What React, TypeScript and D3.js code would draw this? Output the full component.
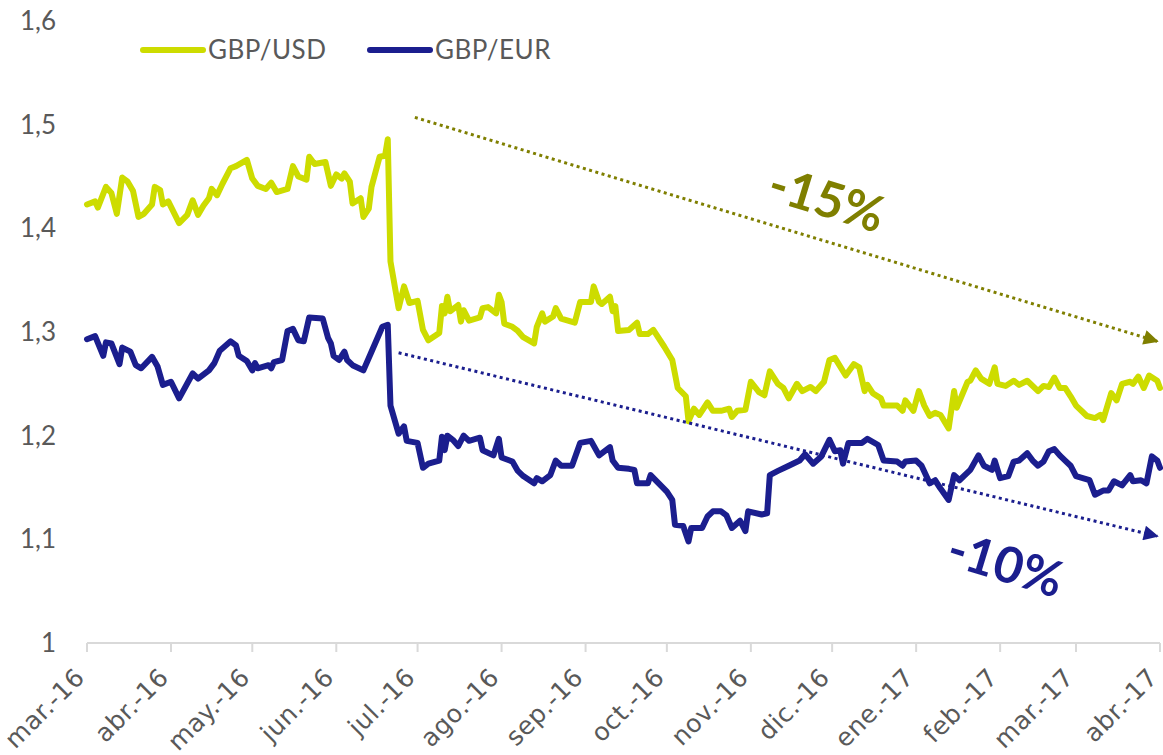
import React from "react";
import * as d3 from "d3";

// Days are counted from 1 March 2016
const usdDays = [0,3,4,7,9,11,13,15,17,19,21,24,25,27,28,30,34,37,39,41,43,45,46,48,50,53,55,59,61,63,66,68,70,74,76,78,81,82,84,88,90,92,94,95,97,98,101,102,104,105,108,110,111,112,115,117,119,122,124,126,130,131,132,133,134,137,138,139,141,145,146,148,151,152,153,154,157,159,161,165,166,168,169,172,173,175,180,182,186,187,189,190,193,194,195,196,200,203,204,207,209,213,216,218,221,222,224,226,229,231,234,237,238,240,243,245,248,250,252,255,257,259,262,264,267,269,272,274,276,280,283,285,287,288,290,293,294,299,301,302,305,307,309,311,313,315,318,320,321,325,326,328,330,333,335,336,339,342,344,347,351,353,355,357,359,361,363,365,367,369,372,374,375,378,380,382,385,386,388,390,392,395,396];
const usdValues = [1.423,1.426,1.420,1.440,1.434,1.414,1.449,1.445,1.436,1.411,1.414,1.423,1.440,1.437,1.423,1.426,1.405,1.413,1.427,1.413,1.422,1.429,1.438,1.432,1.443,1.458,1.460,1.466,1.448,1.441,1.438,1.444,1.435,1.438,1.460,1.450,1.447,1.469,1.462,1.464,1.441,1.452,1.448,1.453,1.445,1.424,1.429,1.411,1.419,1.440,1.469,1.470,1.486,1.368,1.323,1.344,1.328,1.330,1.302,1.292,1.299,1.325,1.318,1.334,1.320,1.326,1.310,1.321,1.311,1.314,1.323,1.324,1.318,1.336,1.329,1.308,1.305,1.301,1.295,1.289,1.305,1.318,1.310,1.315,1.323,1.313,1.309,1.329,1.329,1.344,1.329,1.327,1.334,1.320,1.325,1.301,1.302,1.309,1.298,1.298,1.302,1.286,1.273,1.246,1.238,1.214,1.226,1.220,1.232,1.224,1.224,1.226,1.218,1.224,1.225,1.252,1.242,1.239,1.262,1.250,1.246,1.236,1.250,1.243,1.247,1.243,1.252,1.273,1.275,1.258,1.269,1.266,1.243,1.249,1.241,1.236,1.229,1.229,1.224,1.234,1.224,1.243,1.229,1.219,1.222,1.220,1.207,1.243,1.227,1.252,1.253,1.263,1.255,1.250,1.266,1.250,1.248,1.253,1.249,1.253,1.243,1.248,1.247,1.256,1.246,1.246,1.238,1.229,1.224,1.219,1.217,1.220,1.215,1.241,1.234,1.250,1.252,1.250,1.257,1.246,1.258,1.253,1.246];

const eurDays = [0,3,6,7,9,12,13,16,18,20,24,26,28,31,34,39,41,45,47,49,53,55,56,59,61,62,63,67,68,69,72,74,76,78,80,82,87,89,90,91,93,95,96,98,102,105,109,111,112,115,117,118,122,124,126,130,131,132,133,135,137,139,141,145,146,150,152,153,157,159,161,165,166,168,171,173,175,179,182,186,189,193,194,196,200,202,203,207,208,211,214,216,217,220,222,223,227,229,231,234,236,238,241,243,244,249,251,252,255,259,263,265,268,271,274,276,278,279,281,286,288,292,294,299,301,302,306,308,311,313,315,318,320,322,326,329,331,334,335,337,340,342,344,347,349,351,353,355,357,359,361,363,365,370,372,375,377,379,382,385,386,389,391,393,395,396];
const eurValues = [1.293,1.296,1.277,1.290,1.289,1.269,1.285,1.281,1.268,1.265,1.276,1.267,1.249,1.252,1.236,1.260,1.255,1.263,1.270,1.282,1.291,1.287,1.277,1.272,1.263,1.270,1.265,1.268,1.265,1.271,1.273,1.301,1.303,1.292,1.291,1.314,1.313,1.294,1.289,1.277,1.273,1.281,1.273,1.268,1.263,1.281,1.305,1.307,1.229,1.202,1.209,1.195,1.193,1.169,1.173,1.176,1.199,1.186,1.200,1.196,1.190,1.200,1.195,1.198,1.186,1.181,1.197,1.179,1.175,1.166,1.161,1.154,1.159,1.156,1.162,1.176,1.171,1.171,1.193,1.195,1.181,1.189,1.176,1.169,1.168,1.167,1.154,1.154,1.162,1.154,1.146,1.138,1.114,1.113,1.098,1.111,1.111,1.122,1.127,1.127,1.123,1.111,1.118,1.108,1.127,1.124,1.125,1.162,1.166,1.171,1.176,1.182,1.173,1.180,1.196,1.185,1.186,1.173,1.193,1.193,1.197,1.191,1.176,1.175,1.171,1.175,1.176,1.171,1.154,1.157,1.149,1.138,1.162,1.157,1.167,1.181,1.171,1.167,1.176,1.159,1.161,1.175,1.176,1.183,1.176,1.171,1.175,1.185,1.187,1.181,1.176,1.171,1.161,1.157,1.143,1.147,1.147,1.156,1.152,1.162,1.156,1.157,1.154,1.180,1.176,1.169];

const seriesNames = ["GBP/USD", "GBP/EUR"];
const seriesColors = ["#cddc00", "#1b1e8e"];

const monthLabels = ["mar.-16","abr.-16","may.-16","jun.-16","jul.-16","ago.-16","sep.-16","oct.-16","nov.-16","dic.-16","ene.-17","feb.-17","mar.-17","abr.-17"];
const yTicks = [1, 1.1, 1.2, 1.3, 1.4, 1.5, 1.6];
const yTickLabels = ["1", "1,1", "1,2", "1,3", "1,4", "1,5", "1,6"];

// trend annotations: [startDay, startValue, endDay, endValue]
const trendUsd = [121, 1.507, 395, 1.291];
const trendEur = [115, 1.280, 395, 1.103];
const annotationTexts = ["-15%", "-10%"];
const annotationPos = [[273, 1.428], [339, 1.076]];
const annotationColors = ["#7f7f00", "#1b1e8e"];

const START = new Date(2016, 2, 1);
const dayToDate = (d: number) => d3.timeDay.offset(START, d);

const W = 1163, H = 755;
const FONT = "Lato, 'Open Sans', 'DejaVu Sans', sans-serif";
const TICK_FONT = "'DejaVu Sans', Lato, sans-serif";

export default function App() {
  const x = d3.scaleTime().domain([START, new Date(2017, 3, 1)]).range([87, 1160]);
  const y = d3.scaleLinear().domain([1, 1.6]).range([643, 21]);
  const line = d3.line<[number, number]>()
    .x((p) => x(dayToDate(p[0])))
    .y((p) => y(p[1]));

  const usd: [number, number][] = usdDays.map((d, i) => [d, usdValues[i]]);
  const eur: [number, number][] = eurDays.map((d, i) => [d, eurValues[i]]);
  const ticks = d3.timeMonth.range(START, new Date(2017, 3, 2));

  const trends = [trendUsd, trendEur];

  return (
    <svg width={W} height={H} style={{ position: "absolute", left: 0, top: 0, background: "#fff" }}
      fontFamily={FONT}>
      <defs>
        {annotationColors.map((c, i) => (
          <marker key={i} id={`arrow${i}`} viewBox="0 0 10 10" refX="9" refY="5"
            markerWidth="17" markerHeight="15" markerUnits="userSpaceOnUse" orient="auto">
            <path d="M0,0 L10,5 L0,10 Z" fill={c} />
          </marker>
        ))}
      </defs>

      {/* y tick labels */}
      {yTicks.map((t, i) => (
        <text key={t} x={56} y={y(t)} dy="0.35em" textAnchor="end" fontSize={26} fill="#595959">
          {yTickLabels[i]}
        </text>
      ))}

      {/* x axis */}
      <line x1={x(START)} x2={x(new Date(2017, 3, 1))} y1={y(1)} y2={y(1)} stroke="#d9d9d9" strokeWidth={2} />
      {ticks.map((t, i) => (
        <g key={i}>
          <line x1={x(t)} x2={x(t)} y1={y(1)} y2={y(1) + 9} stroke="#d9d9d9" strokeWidth={2} />
          <text transform={`translate(${x(t) - 1},${y(1) + 36}) rotate(-45)`} textAnchor="end"
            fontFamily={TICK_FONT} fontSize={25} letterSpacing={0.5} fill="#595959">
            {monthLabels[i]}
          </text>
        </g>
      ))}

      {/* series */}
      <path d={line(usd) || ""} fill="none" stroke={seriesColors[0]} strokeWidth={6} strokeLinejoin="round" strokeLinecap="round" />
      <path d={line(eur) || ""} fill="none" stroke={seriesColors[1]} strokeWidth={6} strokeLinejoin="round" strokeLinecap="round" />

      {/* trend arrows */}
      {trends.map((t, i) => (
        <line key={i} x1={x(dayToDate(t[0]))} y1={y(t[1])} x2={x(dayToDate(t[2]))} y2={y(t[3])}
          stroke={annotationColors[i]} strokeWidth={3} strokeDasharray="3 3.5"
          markerEnd={`url(#arrow${i})`} />
      ))}
      {annotationTexts.map((s, i) => (
        <text key={s}
          transform={`translate(${x(dayToDate(annotationPos[i][0]))},${y(annotationPos[i][1])}) rotate(17)`}
          textAnchor="middle" dy="0.35em" fontSize={50} fontWeight="bold" fill={annotationColors[i]}>
          {s}
        </text>
      ))}

      {/* legend */}
      {seriesNames.map((n, i) => {
        const lx = i === 0 ? 143 : 370;
        return (
          <g key={n}>
            <line x1={lx} x2={lx + 60} y1={50} y2={50} stroke={seriesColors[i]} strokeWidth={6} strokeLinecap="round" />
            <text x={lx + 65} y={50} dy="0.36em" fontSize={26} fill="#595959" letterSpacing={0.5}>{n}</text>
          </g>
        );
      })}
    </svg>
  );
}
